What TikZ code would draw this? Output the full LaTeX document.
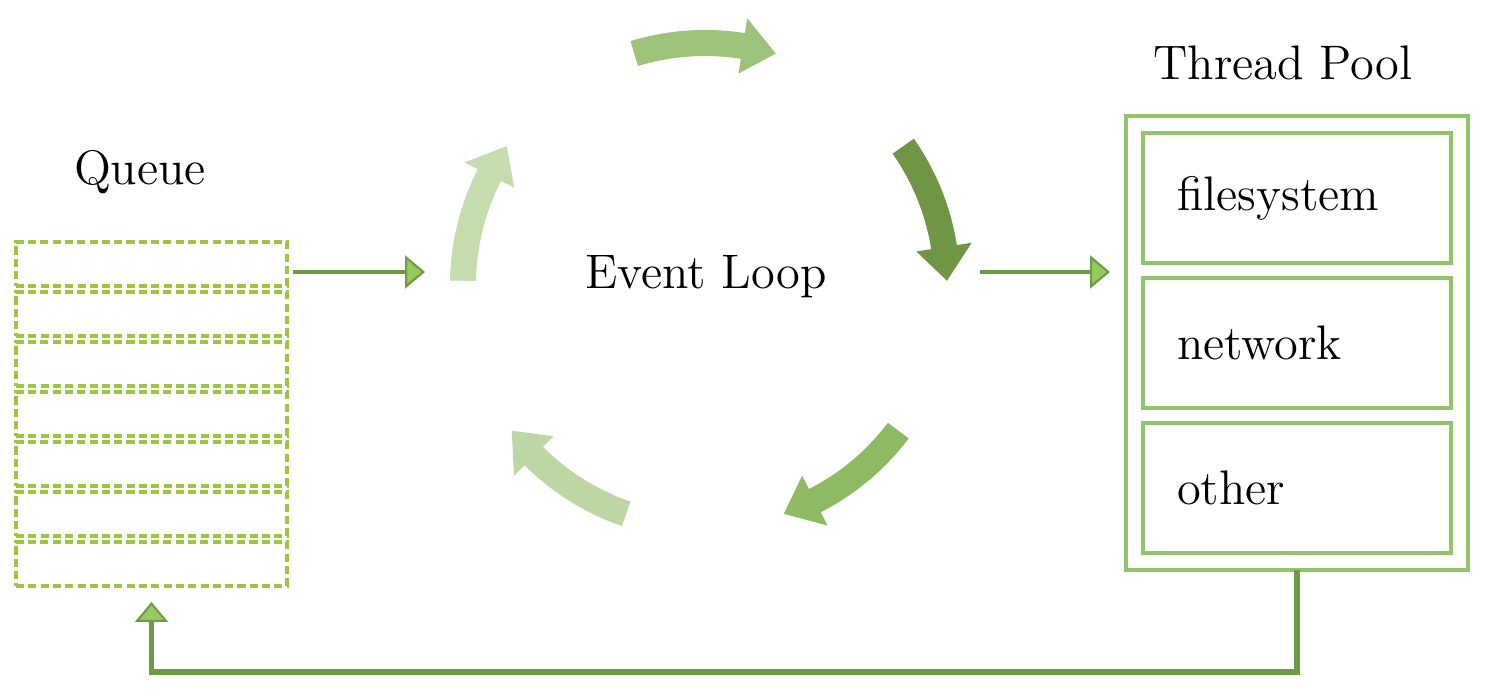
\documentclass[tikz,border=0pt]{standalone}
\usepackage{tikz}
\usetikzlibrary{arrows.meta, positioning, calc, fit}
\definecolor{dashgreen}{HTML}{9CC63F}
\definecolor{boxgreen}{HTML}{92C46C}
\definecolor{linegreen}{HTML}{6F9A48}
\definecolor{tipgreen}{HTML}{95CC60}
\definecolor{loopA}{HTML}{9DC27A}
\definecolor{loopB}{HTML}{6F9545}
\definecolor{loopC}{HTML}{8EBA64}
\definecolor{loopD}{HTML}{BCD7A4}
\definecolor{loopE}{HTML}{C4DCAE}

% curved arrow on the loop: start angle, end angle, colour
\newcommand{\looparrow}[3]{%
  \fill[#3] ($(ctr)+(#1:2.55)$) arc[start angle=#1, end angle=#2+8, radius=2.55cm]
    -- ($(ctr)+(#2+8:2.70)$) -- ($(ctr)+(#2:2.42)$) -- ($(ctr)+(#2+8:2.14)$)
    -- ($(ctr)+(#2+8:2.29)$) arc[start angle=#2+8, end angle=#1, radius=2.29cm] -- cycle;}

\begin{document}
\begin{tikzpicture}
            [node distance=0.06cm, font=\fontsize{13.8}{16}\selectfont,
            slot/.style={rectangle, draw=dashgreen, line width=1.1pt, dash pattern=on 2.3pt off 1.2pt,
                minimum width=2.71cm, minimum height=0.44cm, inner sep=0pt, outer sep=0pt},
            worker/.style={rectangle, draw=boxgreen, line width=1.1pt, text width=2.4cm,
                inner xsep=0.34cm, minimum height=1.3cm, align=left, outer sep=0pt},
            flow/.style={draw=linegreen, line width=1.4pt,
                -{Triangle[length=2mm, width=3.3mm, line width=0.6pt, fill=tipgreen]}}]

            \useasboundingbox (0,0) rectangle (15.04,6.94);

            % queue
            \node (queue) at (1.40,5.22) {Queue};
            \node[slot, anchor=north west] (q1) at (0.16,4.52) {};
            \foreach \i [count=\j from 1] in {2,...,7}
                \node[slot] (q\i) [below = of q\j] {};

            % event loop
            \coordinate (ctr) at (7.05,4.09);
            \node (loop) at (7.06,4.17) {Event Loop};
            \foreach \a/\c in {107/loopA, 35/loopB, -37/loopC, -109/loopD, 179/loopE}
                \looparrow{\a}{\a-34}{\c};

            % thread pool
            \node[worker, anchor=north west] (fs) at (11.43,5.61) {filesystem};
            \node[worker] (nw) [below = 0.15cm of fs] {network};
            \node[worker] (ot) [below = 0.15cm of nw] {other};
            \node[fit=(fs)(nw)(ot), draw=boxgreen, line width=1.1pt, inner sep=0.17cm, outer sep=0pt] (pool) {};
            \node (poollabel) at (12.83,6.31) {Thread Pool};

            \coordinate (qout) at (2.93,4.22);
            \coordinate (loopin) at (4.25,4.22);
            \coordinate (loopout) at (9.80,4.22);
            \coordinate (poolin) at (11.10,4.22);

            \draw[flow] (qout) -- (loopin);
            \draw[flow] (loopout) -- (poolin);
            \draw[flow, line width=1.7pt, shorten >=0.16cm] (pool.south) -- ++(0,-1.02) -| (q7.south);

          \end{tikzpicture}
\end{document}
